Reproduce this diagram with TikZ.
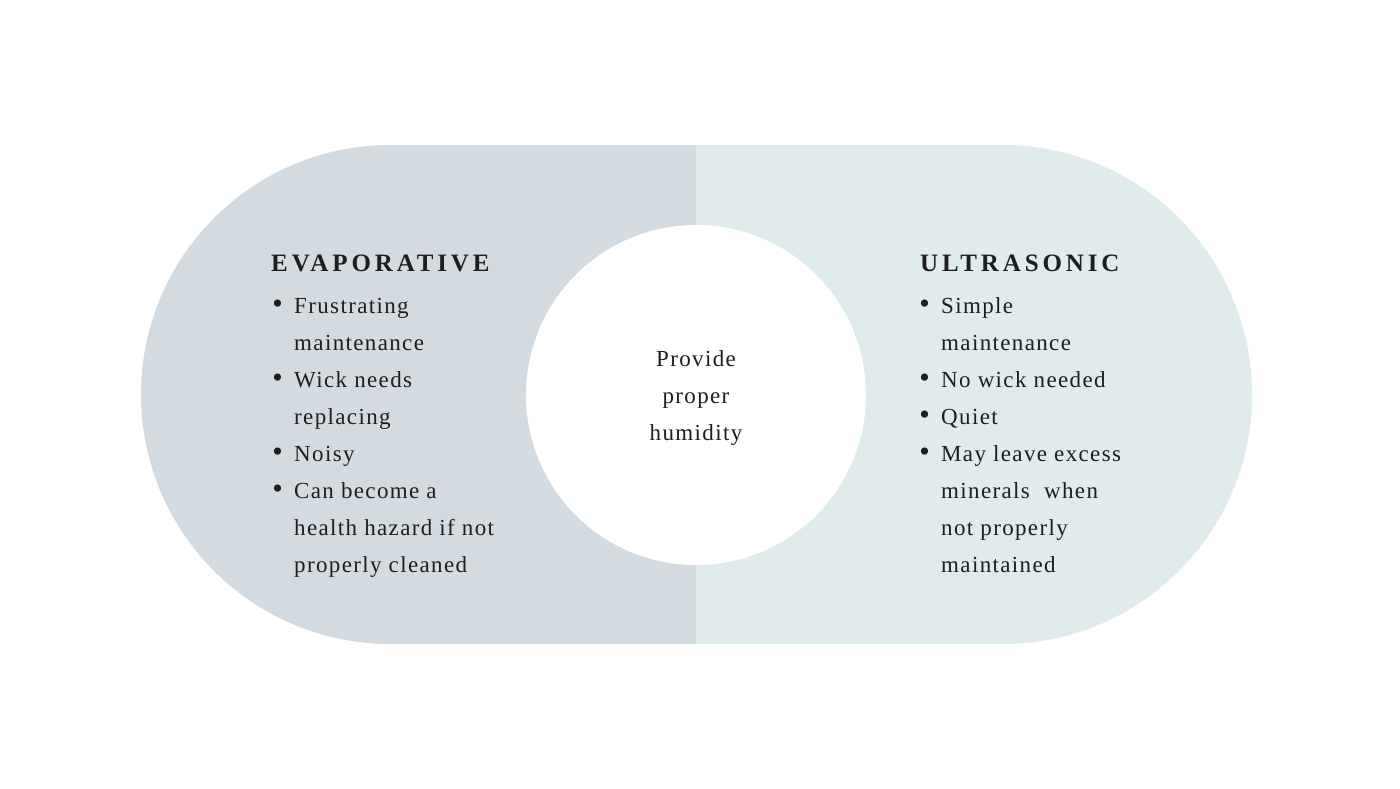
\documentclass[tikz,border=0pt]{standalone}
\usepackage{fontspec}
\setmainfont{Liberation Serif}
\newfontfamily\bodyfont{Liberation Serif}[LetterSpace=5.9]
\newfontfamily\headfont{Liberation Serif}[LetterSpace=15.5,BoldFont={Liberation Serif Bold}]
\definecolor{leftc}{HTML}{D3DBE1}
\definecolor{rightc}{HTML}{E0EBEB}
\definecolor{ink}{HTML}{1E1E1E}
\tikzset{
  bodytext/.style={anchor=base west, inner sep=0pt, text=ink, font=\bodyfont\fontsize{23}{37}\selectfont},
  centertext/.style={anchor=base, inner sep=0pt, text=ink, font=\bodyfont\fontsize{23}{37}\selectfont},
  bulletmark/.style={anchor=base, inner sep=0pt, text=ink, font=\fontsize{30}{37}\selectfont},
  headtext/.style={anchor=base west, inner sep=0pt, text=ink, font=\headfont\bfseries\fontsize{25}{30}\selectfont},
  hubdisc/.style={circle, fill=white, inner sep=0pt, minimum size=340pt}
}
\begin{document}
\begin{tikzpicture}[x=1pt,y=-1pt]
\useasboundingbox (0,0) rectangle (1400,788);
\fill[white] (0,0) rectangle (1400,788);
% stadium halves
\fill[leftc] (696,145) -- (390.5,145) arc[start angle=270,end angle=90,radius=249.5] -- (696,644) -- cycle;
\fill[rightc] (696,145) -- (1002.5,145) arc[start angle=-90,end angle=90,radius=249.5] -- (696,644) -- cycle;
% centre disc
\node[hubdisc] (hub) at (696,395) {};
\node[centertext] (c1) at (696,366) {Provide};
\node[centertext] (c2) at (696,403) {proper};
\node[centertext] (c3) at (696,440) {humidity};
% left column
\node[headtext] (lhead) at (271,271) {EVAPORATIVE};
\foreach \t/\y [count=\i] in {Frustrating/313, maintenance/350, Wick needs/387, replacing/424, Noisy/461, Can become a/498, health hazard if not/535, properly cleaned/572}
  \node[bodytext] (l\i) at (294,\y) {\t};
\foreach \y [count=\i] in {313,387,461,498}
  \node[bulletmark] (lb\i) at (277.5,\y) {\textbullet};
% right column
\node[headtext] (rhead) at (920,271) {ULTRASONIC};
\foreach \t/\y [count=\i] in {Simple/313, maintenance/350, No wick needed/387, Quiet/424, May leave excess/461, minerals\ \ when/498, not properly/535, maintained/572}
  \node[bodytext] (r\i) at (941,\y) {\t};
\foreach \y [count=\i] in {313,387,424,461}
  \node[bulletmark] (rb\i) at (924.5,\y) {\textbullet};
\end{tikzpicture}
\end{document}
